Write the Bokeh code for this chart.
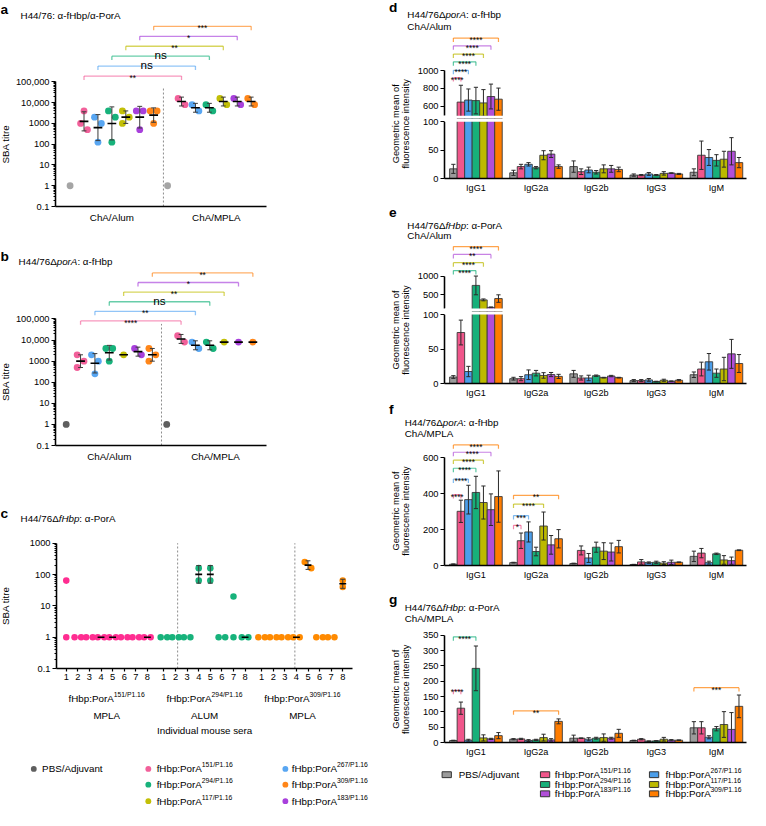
import math
from bokeh.plotting import figure
from bokeh.models import Range1d, FixedTicker, Label, BoxAnnotation
from bokeh.layouts import row, column
from bokeh.embed import file_html
from bokeh.resources import INLINE
from bokeh.core.properties import value

S = 0.978
FONT = "Liberation Sans"

# ------------------------------------------------------------------ data
groups = ["PBS/Adjuvant", "151/P1.16", "267/P1.16", "294/P1.16", "117/P1.16", "183/P1.16", "309/P1.16"]
adjuvants = ["ChA/Alum", "ChA/MPLA"]
titre_ticks = [0.1, 1, 10, 100, 1000, 10000, 100000]
titre_labels = ["0.1", "1", "10", "100", "1000", "10,000", "100,000"]

# panel a: SBA titres (H44/76, anti-fHbp/anti-PorA), one list per group
a_alum = [[1], [4000, 500, 1000], [2000, 1000, 125], [4000, 2000, 125],
          [4000, 2000, 1000], [4000, 4000, 500], [4000, 4000, 1000]]
a_mpla = [[1], [16000, 8000], [8000, 4000], [8000, 4000],
          [16000, 8000], [16000, 8000], [16000, 8000]]
a_sig = ["**", "ns", "ns", "**", "*", "***"]

# panel b: SBA titres (H44/76 delta porA, anti-fHbp)
b_alum = [[1], [2000, 1000, 500], [2000, 1000, 250], [4000, 4000, 1000],
          [2000], [4000, 2000], [4000, 2000, 1000]]
b_mpla = [[1], [16000, 8000], [8000, 4000], [8000, 4000], [8000], [8000], [8000]]
b_sig = ["****", "**", "ns", "**", "*", "**"]

# panel c: individual mouse sera (2 replicates per mouse)
c_vaccines = ["151/P1.16", "294/P1.16", "309/P1.16"]
c_adjuvant = ["MPLA", "ALUM", "MPLA"]
c_mice = [1, 2, 3, 4, 5, 6, 7, 8]
c_151 = [[64, 1], [1, 1], [1, 1], [1, 1], [1, 1], [1, 1], [1, 1], [1, 1]]
c_294 = [[1, 1], [1, 1], [1, 1], [160, 64], [160, 64], [1, 1], [20, 1], [1, 1]]
c_309 = [[1, 1], [1, 1], [1, 1], [1, 1], [250, 160], [1, 1], [1, 1], [64, 40]]
c_median_mice = [4, 5, 8]

# panels d-g: geometric mean of fluorescence intensity (rows = isotype, cols = group)
isotypes = ["IgG1", "IgG2a", "IgG2b", "IgG3", "IgM"]
d_mean = [[17, 645, 668, 662, 636, 708, 678],
          [10, 21, 25, 19, 41, 43, 21],
          [21, 12, 15, 11, 17, 17, 16],
          [6, 6, 8, 6, 9, 9.5, 8],
          [11, 41, 37, 32, 34, 48, 28]]
d_sd = [[8, 190, 125, 150, 150, 140, 125],
        [4.5, 4, 3, 2, 8, 6, 3],
        [10, 5, 5, 3, 7, 6, 4],
        [2, 1, 2.5, 1, 3, 0.5, 1],
        [6, 25, 14, 10, 14, 24, 9]]
d_sig_iso = [0, 0, 0, 0, 0, 0]
d_sig_target = [1, 2, 3, 4, 5, 6]
d_sig_level = [920, 1003, 1099, 1187, 1279, 1367]
d_sig_text = ["****", "****", "****", "****", "****", "****"]

e_mean = [[9.4, 74, 17.4, 754, 368, 167, 403],
          [7, 7, 12.7, 15, 11.7, 13, 10.3],
          [14, 8, 8, 11.3, 8.5, 10.8, 8.5],
          [4.2, 4.2, 5.2, 2.8, 4.7, 3.3, 4.7],
          [12.7, 21, 31.5, 15, 21, 43, 29]]
e_sd = [[2, 18, 7.5, 250, 25, 12, 100],
        [2, 3, 7, 4, 4, 3, 3],
        [5, 3, 4, 1, 0.5, 1, 0.5],
        [1.5, 1.5, 2, 0.5, 1.5, 0.5, 1],
        [4, 10, 12, 6, 17, 21, 13]]
e_sig_iso = [0, 0, 0, 0]
e_sig_target = [3, 4, 5, 6]
e_sig_level = [1150, 1360, 1580, 1790]
e_sig_text = ["****", "****", "**", "****"]

f_mean = [[7, 302, 367, 407, 351, 311, 384],
          [16, 138, 187, 78, 220, 115, 149],
          [11, 84, 42, 102, 80, 75, 105],
          [5.5, 20, 16, 18, 13, 18, 18],
          [51, 69, 16, 65, 31, 27, 85]]
f_sd = [[2, 62, 80, 90, 92, 88, 143],
        [2, 43, 56, 24, 78, 52, 51],
        [2, 25, 25, 28, 47, 50, 35],
        [1, 13, 4, 6, 8, 12, 2],
        [29, 26, 8, 4, 24, 20, 2]]
f_sig_iso = [0, 0, 0, 0, 0, 0, 1, 1, 1, 1]
f_sig_target = [1, 2, 3, 4, 5, 6, 1, 2, 4, 6]
f_sig_level = [395, 482, 542, 587, 631, 672, 224, 278, 342, 391]
f_sig_text = ["****", "****", "****", "****", "****", "****", "*", "***", "****", "**"]

g_mean = [[6.4, 112, 7.5, 242, 15, 11.7, 22.4],
          [10.7, 11.7, 6.4, 8.5, 16, 8.5, 69],
          [14, 14, 10.7, 14, 16, 14, 30],
          [6.4, 10.7, 4.3, 5.3, 10.7, 7.5, 7.5],
          [48, 48, 17, 45, 58.7, 42.7, 118]]
g_sd = [[1, 20, 3, 73, 10, 2, 10],
        [2, 2, 3, 2, 11, 4, 8],
        [10, 1, 5, 3, 12, 3, 13],
        [1, 2, 1, 0.5, 6, 2, 1],
        [20, 20, 5, 7, 42, 55, 37]]
g_sig_iso = [0, 0, 1, 4]
g_sig_target = [1, 3, 6, 6]
g_sig_level = [170, 345, 103.5, 179]
g_sig_text = ["****", "****", "**", "***"]

# ------------------------------------------------------------------ styles
dot_colors = ["#a5a5a5", "#f2609a", "#58a6f2", "#17b27b", "#c2bf07", "#a840dc", "#ff8619"]
pbs_dark = "#5f5f5f"
c_colors = ["#ff2d91", "#17b27b", "#ff8a00"]
bar_colors = ["#9b9b9b", "#f0568b", "#4b9eea", "#17b07a", "#bcb900", "#b14fd9", "#ff7d00"]

CW = {' ': .278, '/': .278, ':': .278, '.': .278, ',': .278, '-': .333, 'f': .278, 'H': .722,
      'b': .556, 'p': .556, 'P': .667, 'o': .556, 'r': .333, 'A': .667, 'Δ': .668, 'α': .578,
      'i': .222, 'l': .222, 'j': .222, 't': .278, 'I': .278, 'M': .833, 'm': .833, 'L': .556,
      'U': .722, 'C': .722, 'h': .556, 'a': .556, 'n': .556, 'e': .556, 'd': .556, 'u': .556,
      's': .5, 'v': .5, 'c': .5, 'y': .5, 'S': .667, 'B': .667}


def Rr(v):
    return int(round(v * S))


def fs(v):
    return f"{v * S:.1f}px"


def tw(text, size):
    return sum(CW.get(ch, .556) for ch in text) * size


class Panel:
    def __init__(self, box, frame=None, xr=None, yr=None, ylog=False, xaxis=False, yaxis=False):
        frame = frame or box
        fx0, fy0, fx1, fy1 = frame
        xr = xr or (fx0, fx1)
        yr = yr or (fy1, fy0)
        self.box, self.frame, self.xr, self.yr, self.ylog = box, frame, xr, yr, ylog
        x0, y0, x1, y1 = box
        kw = dict(width=Rr(x1) - Rr(x0), height=Rr(y1) - Rr(y0),
                  min_border_left=Rr(fx0) - Rr(x0), min_border_right=Rr(x1) - Rr(fx1),
                  min_border_top=Rr(fy0) - Rr(y0), min_border_bottom=Rr(y1) - Rr(fy1),
                  x_range=Range1d(*xr), y_range=Range1d(*yr),
                  output_backend="svg", toolbar_location=None, title=None,
                  x_axis_location="below" if xaxis else None,
                  y_axis_location="left" if yaxis else None)
        if ylog:
            kw["y_axis_type"] = "log"
        p = figure(**kw)
        p.outline_line_color = None
        p.xgrid.visible = False
        p.ygrid.visible = False
        p.background_fill_color = "white"
        p.border_fill_color = "white"
        for ax in p.axis:
            ax.axis_line_color = "black"
            ax.axis_line_width = 1.6 * S
            ax.major_tick_line_color = "black"
            ax.major_tick_line_width = 1.2
            ax.major_tick_out = Rr(4)
            ax.major_tick_in = 0
            ax.minor_tick_line_color = None
            ax.major_label_text_font = FONT
            ax.major_label_text_font_size = fs(9.5)
            ax.major_label_text_color = "black"
            ax.major_label_standoff = 2
        self.p = p

    def X(self, px):
        fx0, _, fx1, _ = self.frame
        a, b = self.xr
        return a + (px - fx0) / (fx1 - fx0) * (b - a)

    def PX(self, x):
        fx0, _, fx1, _ = self.frame
        a, b = self.xr
        return fx0 + (x - a) / (b - a) * (fx1 - fx0)

    def Y(self, py):
        _, fy0, _, fy1 = self.frame
        a, b = self.yr
        t = (fy1 - py) / (fy1 - fy0)
        if self.ylog:
            return 10 ** (math.log10(a) + t * (math.log10(b) - math.log10(a)))
        return a + t * (b - a)

    def ppx(self):
        fx0, _, fx1, _ = self.frame
        return (fx1 - fx0) / (self.xr[1] - self.xr[0])

    def ppy(self):
        _, fy0, _, fy1 = self.frame
        if self.ylog:
            return (fy1 - fy0) / (math.log10(self.yr[1]) - math.log10(self.yr[0]))
        return (fy1 - fy0) / (self.yr[1] - self.yr[0])

    def label(self, px, py, text, size=10, style="normal", align="left", baseline="middle",
              angle=0.0, color="black"):
        self.p.add_layout(Label(x=self.X(px), y=self.Y(py), text=text, text_font=FONT,
                                text_font_size=fs(size), text_font_style=style,
                                text_align=align, text_baseline=baseline, angle=angle,
                                text_color=color))

    def rich(self, px, py, segs, align="left"):
        total = sum(tw(t, s) for t, s, st, dy in segs)
        if align == "center":
            px -= total / 2
        for t, s, st, dy in segs:
            self.label(px, py + dy, t, size=s, style=st)
            px += tw(t, s)


def swarm(vals, ppd, D):
    ys = [math.log10(v) * ppd for v in vals]
    order = sorted(range(len(vals)), key=lambda i: -ys[i])
    offs = [0.0] * len(vals)
    clusters = [[order[0]]]
    for i in order[1:]:
        if ys[clusters[-1][-1]] - ys[i] < 0.95 * D:
            clusters[-1].append(i)
        else:
            clusters.append([i])
    for cl in clusters:
        if len(cl) > 1:
            for j, i in enumerate(cl):
                offs[i] = (-0.5 if j % 2 == 0 else 0.5) * D
    return offs


def geo_stats(vals):
    logs = [math.log10(v) for v in vals]
    m = sum(logs) / len(logs)
    sd = (sum((l - m) ** 2 for l in logs) / (len(logs) - 1)) ** 0.5 if len(logs) > 1 else 0.0
    return m, sd


def titre_axis(P, top):
    ax = P.p.yaxis[0]
    ticks = [t for t in titre_ticks if t <= top]
    minors = [m * 10 ** k for k in range(-1, 6) for m in range(2, 10) if m * 10 ** k < top]
    ax.ticker = FixedTicker(ticks=ticks, minor_ticks=minors)
    ax.major_label_overrides = {t: l for t, l in zip(titre_ticks, titre_labels) if t <= top}
    ax.bounds = (0.1, top)
    ax.minor_tick_line_color = "black"
    ax.minor_tick_out = 2
    ax.minor_tick_in = 0


def text_glyph(P, x, y, t, size, baseline="alphabetic"):
    P.p.text(x=[x], y=[y], text=[t], text_align="center", text_baseline=baseline,
             text_font=value(FONT), text_font_size=value(fs(size)), text_color="black")


def dot_panel(P, left, right, pbs_color, sig, divider_px, divider_top_px, br_levels, lab_pos):
    p = P.p
    ppx, ppd, D = P.ppx(), P.ppy(), 7.0
    cols = [pbs_color] + dot_colors[1:]
    xd = P.X(divider_px)
    p.segment(x0=[xd], y0=[P.yr[0]], x1=[xd], y1=[P.Y(divider_top_px)],
              line_color="#8c8c8c", line_dash="2 2", line_width=1)
    xs, ys, cs = [], [], []
    wx0, wy0, wx1, wy1 = [], [], [], []
    mx0, mx1, my = [], [], []
    for side, data in enumerate((left, right)):
        for i, vals in enumerate(data):
            xc = 1 + 7 * side + i
            for v, o in zip(vals, swarm(vals, ppd, D)):
                xs.append(xc + o / ppx)
                ys.append(v)
                cs.append(cols[i])
            if i == 0:
                continue
            m, sd = geo_stats(vals)
            mx0.append(xc - 4.5 / ppx)
            mx1.append(xc + 4.5 / ppx)
            my.append(10 ** m)
            if sd > 0:
                lo, hi = 10 ** (m - sd), 10 ** (m + sd)
                cw = 2.5 / ppx
                wx0 += [xc, xc - cw, xc - cw]
                wx1 += [xc, xc + cw, xc + cw]
                wy0 += [lo, lo, hi]
                wy1 += [hi, lo, hi]
    p.scatter(x=xs, y=ys, size=D * S, fill_color=cs, line_color=None)
    p.segment(x0=wx0, y0=wy0, x1=wx1, y1=wy1, line_color="#3c3c3c", line_width=1)
    p.segment(x0=mx0, y0=my, x1=mx1, y1=my, line_color="black", line_width=1.6)
    for j, (t, py) in enumerate(zip(sig, br_levels)):
        xa, xb = 2 + j, 9 + j
        y, yt = P.Y(py), P.Y(py + 4)
        p.segment(x0=[xa, xa, xb], y0=[y, y, y], x1=[xb, xa, xb], y1=[y, yt, yt],
                  line_color=dot_colors[j + 1], line_alpha=0.65, line_width=1.3)
        if t == "ns":
            text_glyph(P, (xa + xb) / 2, P.Y(py - 1.5), t, 12)
        else:
            text_glyph(P, (xa + xb) / 2, P.Y(py + 2), t, 8.5)
    xa = P.p.xaxis[0]
    xa.ticker = FixedTicker(ticks=lab_pos)
    xa.major_label_overrides = {x: l for x, l in zip(lab_pos, adjuvants)}
    xa.major_tick_out = 0
    xa.major_label_standoff = 5
    xa.major_label_text_font_size = fs(10)


def bar_panel(P, means, sds, s_iso, s_tgt, s_lev, s_txt, yticks, ybounds, cut_below=None, cut_above=None):
    p = P.p
    xs, tops, cols, lo, hi = [], [], [], [], []
    for g, vals in enumerate(means):
        for k, v in enumerate(vals):
            xs.append(8 * g + k)
            tops.append(v)
            cols.append(bar_colors[k])
            s = sds[g][k]
            lo.append(max(v - s, 0))
            hi.append(v + s)
    p.vbar(x=xs, top=tops, bottom=0, width=1, fill_color=cols, line_color="#3a3a3a", line_width=0.9)
    p.segment(x0=xs, y0=lo, x1=xs, y1=hi, line_color="#2a2a2a", line_width=1)
    cw = 0.28
    p.segment(x0=[x - cw for x in xs], y0=hi, x1=[x + cw for x in xs], y1=hi,
              line_color="#2a2a2a", line_width=1)
    lx = [x for x, l in zip(xs, lo) if l > 0]
    ly = [l for l in lo if l > 0]
    p.segment(x0=[x - cw for x in lx], y0=ly, x1=[x + cw for x in lx], y1=ly,
              line_color="#2a2a2a", line_width=1)
    if cut_below is not None:
        p.add_layout(BoxAnnotation(top=cut_below, fill_color="white", fill_alpha=1.0, line_color=None))
    if cut_above is not None:
        p.add_layout(BoxAnnotation(bottom=cut_above, fill_color="white", fill_alpha=1.0, line_color=None))
    ppy = P.ppy()
    for g, k, lev, t in zip(s_iso, s_tgt, s_lev, s_txt):
        xa, xb = 8 * g, 8 * g + k
        dy = 4 / ppy
        p.segment(x0=[xa, xa, xb], y0=[lev, lev, lev], x1=[xb, xa, xb], y1=[lev, lev - dy, lev - dy],
                  line_color=bar_colors[k], line_alpha=0.7, line_width=1.2)
        text_glyph(P, (xa + xb) / 2, lev - 2 / ppy, t, 8.5)
    ya = p.yaxis[0]
    ya.ticker = FixedTicker(ticks=yticks)
    ya.bounds = ybounds
    if p.xaxis:
        xa = p.xaxis[0]
        centers = [8 * g + 3 for g in range(len(isotypes))]
        xa.ticker = FixedTicker(ticks=centers)
        xa.major_label_overrides = {c: n for c, n in zip(centers, isotypes)}
        xa.major_tick_out = 0
        xa.major_label_standoff = 4
        xa.major_label_text_font_size = fs(9.3)


def ylabel_bars(P, cy):
    P.label(404, cy, "Geometric mean of", size=9.5, align="center", angle=math.pi / 2)
    P.label(414, cy, "fluorescence intensity", size=9.5, align="center", angle=math.pi / 2)


def title_bar(P, letter, ly, italic, rest, ty, sub, sy, tx):
    P.label(397, ly, letter, size=14, style="bold")
    P.rich(tx, ty, [("H44/76Δ", 10, "normal", 0), (italic, 10, "italic", 0), (rest, 10, "normal", 0)])
    P.label(tx, sy, sub, size=10)


# ================================================================== left column
# ---- panel a
A_title = Panel((0, 0, 380, 21))
A_title.label(0, 8.5, "a", size=14, style="bold")
A_title.label(20.5, 14.5, "H44/76: α-fHbp/α-PorA", size=10)
A_lab = Panel((0, 21, 12, 245), (0, 21, 12, 211))
A_lab.label(5, 147, "SBA titre", size=10, align="center", angle=math.pi / 2)
PA = Panel((12, 21, 380, 245), (55, 21, 272, 211), (-0.047, 15.1), (0.1, 10 ** (-1 + 190 / 21.33)),
           ylog=True, xaxis=True, yaxis=True)
titre_axis(PA, 100000)
dot_panel(PA, a_alum, a_mpla, dot_colors[0], a_sig, 166, 88,
          [77 - 10.2 * j for j in range(6)], [4, 11.5])

# ---- panel b
B_title = Panel((0, 245, 380, 273.5))
B_title.label(0, 261.5, "b", size=14, style="bold")
B_title.rich(18.5, 267, [("H44/76Δ", 10, "normal", 0), ("porA", 10, "italic", 0), (": α-fHbp", 10, "normal", 0)])
B_lab = Panel((0, 273.5, 12, 500), (0, 273.5, 12, 455))
B_lab.label(5, 390, "SBA titre", size=10, align="center", angle=math.pi / 2)
PB = Panel((12, 273.5, 380, 500), (55, 273.5, 272, 455), (0.255, 14.95), (0.1, 10 ** (-1 + 181.5 / 21.5)),
           ylog=True, xaxis=True, yaxis=True)
titre_axis(PB, 100000)
dot_panel(PB, b_alum, b_mpla, pbs_dark, b_sig, 164, 331,
          [328 - 9.8 * j for j in range(6)], [4, 11.4])

# ---- panel c
C_title = Panel((0, 500, 380, 541))
C_title.label(0, 525, "c", size=14, style="bold")
C_title.rich(20.5, 530, [("H44/76Δ", 10, "normal", 0), ("fHbp", 10, "italic", 0), (": α-PorA", 10, "normal", 0)])
C_lab = Panel((0, 541, 12, 702), (0, 545, 12, 683.3))
C_lab.label(5, 619, "SBA titre", size=10, align="center", angle=math.pi / 2)
PC = Panel((12, 541, 380, 702), (57, 545, 360, 683.3), (15.7, 2570), (0.1, 10 ** 3.31),
           ylog=True, xaxis=True, yaxis=True)
titre_axis(PC, 1000)
pc = PC.p
ppx_c, ppd_c, Dc = PC.ppx(), PC.ppy(), 6.7
for xpx in (181, 301):
    xd = PC.X(xpx)
    pc.segment(x0=[xd], y0=[0.1], x1=[xd], y1=[1000], line_color="#8c8c8c", line_dash="2 2", line_width=1)
xs, ys, cs = [], [], []
wx0, wy0, wx1, wy1 = [], [], [], []
mx0, mx1, my = [], [], []
c_ticks = []
for gi, data in enumerate((c_151, c_294, c_309)):
    for mouse, vals in zip(c_mice, data):
        xc = gi * 843 + mouse * 100
        c_ticks.append(xc)
        for v, o in zip(vals, swarm(vals, ppd_c, Dc)):
            xs.append(xc + o / ppx_c)
            ys.append(v)
            cs.append(c_colors[gi])
        if mouse in c_median_mice:
            m, sd = geo_stats(vals)
            mx0.append(xc - 3.5 / ppx_c)
            mx1.append(xc + 3.5 / ppx_c)
            my.append(10 ** m)
            if sd > 0:
                lo, hi = 10 ** (m - sd), 10 ** (m + sd)
                cw = 2.5 / ppx_c
                wx0 += [xc, xc - cw, xc - cw]
                wx1 += [xc, xc + cw, xc + cw]
                wy0 += [lo, lo, hi]
                wy1 += [hi, lo, hi]
pc.scatter(x=xs, y=ys, size=Dc * S, fill_color=cs, line_color=None)
pc.segment(x0=wx0, y0=wy0, x1=wx1, y1=wy1, line_color="#3c3c3c", line_width=1)
pc.segment(x0=mx0, y0=my, x1=mx1, y1=my, line_color="black", line_width=1.6)
cxa = pc.xaxis[0]
cxa.ticker = FixedTicker(ticks=c_ticks)
cxa.major_label_overrides = {t: str(c_mice[i % 8]) for i, t in enumerate(c_ticks)}
cxa.major_tick_out = 3
cxa.major_label_standoff = 2

C_labels = Panel((0, 702, 380, 770))
for gi in range(3):
    cx = PC.PX(gi * 843 + 450)
    C_labels.rich(cx, 713, [("fHbp:PorA", 10, "normal", 0), (c_vaccines[gi], 7, "normal", -4)], align="center")
    C_labels.label(cx, 731, c_adjuvant[gi], size=10, align="center")
C_labels.label(PC.PX((c_ticks[0] + c_ticks[-1]) / 2), 746, "Individual mouse sera", size=10, align="center")

# ---- left legend
LL = Panel((0, 770, 380, 826))
ll_cols = [(34, 42.5), (151, 159.5), (291, 297.5)]
ll_rows = [785.7, 801.7, 818.5]
ll_items = [(0, 0, 0, pbs_dark), (1, 0, 1, dot_colors[1]), (1, 1, 3, dot_colors[3]), (1, 2, 4, dot_colors[4]),
            (2, 0, 2, dot_colors[2]), (2, 1, 6, dot_colors[6]), (2, 2, 5, dot_colors[5])]
LL.p.scatter(x=[ll_cols[c][0] for c, r, g, col in ll_items], y=[ll_rows[r] for c, r, g, col in ll_items],
             size=6 * S, fill_color=[col for c, r, g, col in ll_items], line_color=None)
for c, r, g, col in ll_items:
    if g == 0:
        LL.label(ll_cols[c][1], ll_rows[r], groups[0], size=10)
    else:
        LL.rich(ll_cols[c][1], ll_rows[r], [("fHbp:PorA", 10, "normal", 0), (groups[g], 7, "normal", -4)])

# ================================================================== right column
XR = (-1.18, 39.0)
# ---- panel d
D_title = Panel((380, 0, 766, 33))
title_bar(D_title, "d", 7, "porA", ": α-fHbp", 14.5, "ChA/Alum", 26.5, 415.7)
D_lab = Panel((380, 33, 422, 202), (380, 33, 422, 181.7))
PD1 = Panel((422, 33, 766, 121), (454, 33, 763, 121), XR, (460.1, 1429.8), yaxis=True)
PD2 = Panel((422, 121, 766, 202), (454, 121, 763, 181.7), XR, (0, 105.75), xaxis=True, yaxis=True)
bar_panel(PD1, d_mean, d_sd, d_sig_iso, d_sig_target, d_sig_level, d_sig_text, [600, 800, 1000],
          (489.8, 1000), cut_below=489.8)
bar_panel(PD2, d_mean, d_sd, [], [], [], [], [0, 50, 100], (0, 100), cut_above=100)
ylabel_bars(D_lab, 126)

# ---- panel e
E_title = Panel((380, 202, 766, 246.5))
title_bar(E_title, "e", 217, "fHbp", ": α-PorA", 229.5, "ChA/Alum", 240.3, 415.7)
E_lab = Panel((380, 246.5, 422, 410), (380, 246.5, 422, 391.7))
PE1 = Panel((422, 246.5, 766, 317.5), (454, 246.5, 763, 317.5), XR, (57.9, 1926.3), yaxis=True)
PE2 = Panel((422, 317.5, 766, 410), (454, 317.5, 763, 391.7), XR, (0, 104.5), xaxis=True, yaxis=True)
bar_panel(PE1, e_mean, e_sd, e_sig_iso, e_sig_target, e_sig_level, e_sig_text, [500, 1000],
          (136.8, 1000), cut_below=136.8)
bar_panel(PE2, e_mean, e_sd, [], [], [], [], [0, 50, 100], (0, 100), cut_above=100)
ylabel_bars(E_lab, 337)

# ---- panel f
F_title = Panel((380, 410, 766, 449))
title_bar(F_title, "f", 418, "porA", ": α-fHbp", 432, "ChA/MPLA", 442.8, 413)
F_lab = Panel((380, 449, 422, 600), (380, 449, 422, 577.7))
PF = Panel((422, 449, 766, 600), (454, 449, 763, 577.7), XR, (0, 702.1), xaxis=True, yaxis=True)
bar_panel(PF, f_mean, f_sd, f_sig_iso, f_sig_target, f_sig_level, f_sig_text, [0, 200, 400, 600], (0, 600))
ylabel_bars(F_lab, 522)

# ---- panel g
G_title = Panel((380, 600, 766, 640))
title_bar(G_title, "g", 612, "fHbp", ": α-PorA", 620, "ChA/MPLA", 632, 413)
G_lab = Panel((380, 640, 422, 777), (380, 640, 422, 758.3))
PG = Panel((422, 640, 766, 777), (454, 640, 763, 758.3), XR, (0, 378.7), xaxis=True, yaxis=True)
bar_panel(PG, g_mean, g_sd, g_sig_iso, g_sig_target, g_sig_level, g_sig_text,
          [0, 50, 100, 150, 200, 250, 300, 350], (0, 350))
ylabel_bars(G_lab, 704)

# ---- right legend
LR = Panel((380, 777, 766, 826))
lr_cols = [(456, 468.3), (556.7, 566.7), (668.3, 680)]
lr_rows = [791.5, 801.5, 811]
lr_items = [(0, 0, 0), (1, 0, 1), (1, 1, 3), (1, 2, 5), (2, 0, 2), (2, 1, 4), (2, 2, 6)]
LR.p.rect(x=[lr_cols[c][0] for c, r, g in lr_items], y=[lr_rows[r] for c, r, g in lr_items],
          width=9.5 * S, height=6 * S, width_units="screen", height_units="screen",
          fill_color=[bar_colors[g] for c, r, g in lr_items], line_color="#333333", line_width=1)
for c, r, g in lr_items:
    if g == 0:
        LR.label(lr_cols[c][1], lr_rows[r], groups[0], size=10)
    else:
        LR.rich(lr_cols[c][1], lr_rows[r], [("fHbp:PorA", 10, "normal", 0), (groups[g], 7, "normal", -4)])

left = column(A_title.p, row(A_lab.p, PA.p), B_title.p, row(B_lab.p, PB.p),
              C_title.p, row(C_lab.p, PC.p), C_labels.p, LL.p)
right = column(D_title.p, row(D_lab.p, column(PD1.p, PD2.p)),
               E_title.p, row(E_lab.p, column(PE1.p, PE2.p)),
               F_title.p, row(F_lab.p, PF.p), G_title.p, row(G_lab.p, PG.p), LR.p)
layout = row(left, right)

with open("out.html", "w") as fh:
    fh.write(file_html(layout, INLINE, "chart"))
